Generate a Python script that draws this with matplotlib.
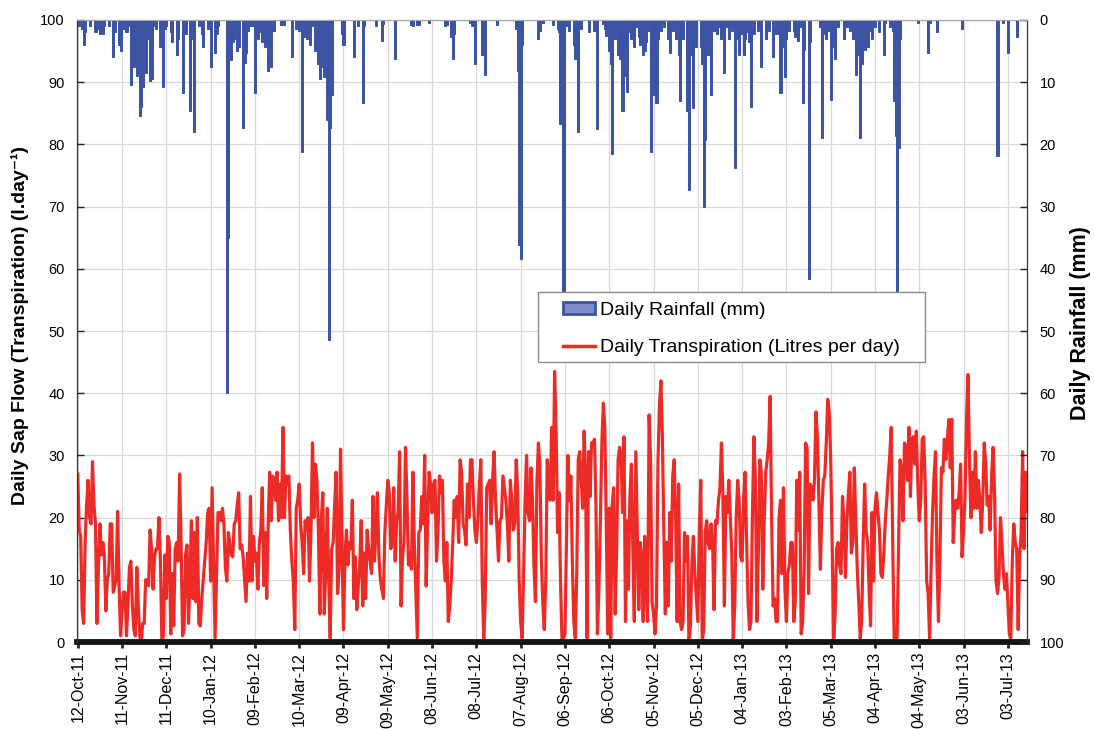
import numpy as np
import pandas as pd
import matplotlib
matplotlib.use("Agg")
import matplotlib.pyplot as plt
import matplotlib.dates as mdates
from matplotlib.patches import Patch, Rectangle
from matplotlib.lines import Line2D

plt.rcParams['font.family'] = ['Liberation Sans', 'DejaVu Sans']

# ---- data -------------------------------------------------------------
start_date = '2011-10-12'          # first day of the record
tick_every_days = 30
n_ticks = 22

# daily transpiration (litres per day), one value per day from start_date
transpiration = [
    27, 18, 17, 5, 3, 16, 22, 26, 20, 19, 29, 22, 19, 3, 12, 19, 14, 16, 14, 5,
    10, 11, 19, 19, 8, 9, 10, 21, 9, 1, 5, 8, 8, 1, 6, 12, 13, 6, 2, 1,
    12, 6, 1, 0, 3, 3, 10, 10, 9, 18, 15,
    8.5, 13.7, 15, 15, 20, 13, 0, 1, 14, 7, 17, 16, 1.3, 11, 2.6, 15, 16, 13, 27, 16,
    1, 2, 14, 15.6, 3, 10, 19.5, 7, 17.6, 6.5, 20, 3, 2.6, 7, 10, 13, 16, 20.8, 21.5, 9.8,
    24.8, 13, 0.6, 11, 20.8, 20.8, 19.5, 21.5, 19, 12, 9.8, 17.6, 16, 14,
    13.7, 19, 19.5, 22, 24, 15, 15.6, 13.7, 10, 6.5, 14.3, 9.8, 23.4, 9.8, 17, 13, 14.3, 8.5, 16, 18,
    24.8, 9.1, 17.6, 7, 19, 27.3, 19.5, 26.7, 26, 22.8, 27.3, 19.5, 25.4, 20, 34.5, 20, 26.7, 25.4, 26.7, 18,
    13, 9.8, 2, 21.5, 22.8, 25.4, 19, 16, 11, 19.5, 18, 20, 9.8, 18,
    32, 20, 28.6, 26, 18, 4.5, 20, 24, 4.5, 12, 21.5, 9.8, 0.6, 15, 16, 22, 27.3, 7.8, 11.7, 31,
    15.6, 2, 13.7, 18, 12.4, 16, 15, 22.8, 7, 13.7, 5.2, 9, 12.4, 19.5, 5.8, 14.3, 7, 18, 15, 13,
    11, 23.4, 13, 18, 24, 13.7, 10, 8.5, 7, 17.6, 22, 26, 24, 15,
    16, 24.8, 13, 19.5, 20.8, 30.6, 5.8, 13.7, 16, 31.3, 22.8, 12.4, 14.3, 11.7, 27.3, 15.6, 8, 0.6, 17.6, 18,
    23.4, 19, 30, 9, 19, 27.3, 25.4, 20.8, 25.4, 26, 13, 17.6, 26.7, 24, 26, 13, 9.8, 16, 3.3, 5.8,
    10, 16, 22.8, 20, 23.4, 16, 29.3, 27.3, 19, 18, 15.6, 25.4, 20, 29.3,
    29.3, 22.8, 18, 16, 19.5, 24.8, 29.3, 9.8, 0, 7, 24.8, 25.4, 26, 19, 26, 30.6, 22.8, 18, 13, 19.5,
    20, 26.7, 24.8, 22.8, 19, 13, 26, 22.8, 18, 19, 29.3, 24, 9.8, 3.3, 0.6, 11, 22.8, 30, 20.8, 19.5,
    28, 22.8, 12.4, 6.5, 25.4, 32, 28.6, 13.7, 6.5, 2, 9.8, 29.3, 25.4, 22.8,
    34.5, 22.8, 43.5, 34.5, 17.6, 24, 10, 0, 0.6, 1.3, 16, 30, 22.8, 26.7, 13, 3.3, 0.6, 11, 29.3, 30.6,
    26, 21.5, 33.9, 26, 0.6, 30.6, 23.4, 32, 32, 32.6, 22, 1.3, 8.5, 19.5, 32, 38.4, 34.5, 19, 1.3, 21.5,
    0.6, 22, 24.8, 4.5, 14.3, 29.3, 31.3, 30, 20.8, 33, 3.3, 19.5, 8.5, 23.4,
    28.6, 15, 3.3, 30.6, 17.6, 5.2, 16, 13.7, 3.3, 17, 8.5, 3.3, 36.5, 29.3, 6.5, 4.5, 1.3, 5.8, 28.6, 38,
    42, 33, 17.6, 4.5, 16, 5.8, 20.8, 13, 26.7, 29.3, 19.5, 3.3, 25.4, 3.3, 2, 3.3, 17.6, 13, 17, 0,
    2.6, 13, 17, 11, 7, 3.3, 17.6, 26, 0, 2, 17.6, 19.5, 16, 15,
    19, 16, 5.2, 19.5, 19, 22.8, 24.8, 32, 23.4, 5.8, 23.4, 20.8, 26, 20, 14.3, 0, 5.8, 20, 26, 22.8,
    13.7, 13, 22.8, 27.3, 17, 6.5, 2, 3.3, 20.8, 33, 26, 3.3, 14.3, 29.3, 27.3, 8.5, 20, 27.3, 29.3, 32,
    39.5, 19.5, 5.8, 7, 3.3, 3.3, 20, 22.8, 11, 24.8, 8.5, 3.3, 11, 12.4, 16,
    16, 3.3, 6.5, 26, 18, 27.3, 1.3, 3.3, 11, 32, 31.3, 7.8, 25.4, 24.8, 22.8, 26, 37, 33, 22.8, 11.7,
    20.8, 26, 26.7, 32, 39, 37, 29.3, 16, 0, 4.5, 15, 16, 12.4, 11, 23.4, 19.5, 10.4, 19.5, 24, 27.3,
    14.3, 16, 28, 19.5, 11.7, 6.5, 0.6, 3.3, 16, 25.4, 18, 16, 8.5, 2.6,
    20.8, 9.8, 21.5, 24, 20.8, 18, 11, 10.4, 14.3, 19.5, 22.8, 26.7, 30, 34.5, 16, 0.6, 0, 0.6, 16, 29.3,
    27.3, 19.5, 32, 31.3, 26, 34.5, 23.4, 32.6, 33, 28.6, 33.9, 25.4, 19.5, 22.8, 32.6, 33, 25.4, 9.8, 7.8, 0.6,
    11.7, 20.8, 26.7, 30.6, 12.4, 3.3, 13.7, 28, 27.3, 32.6, 29.3, 32.6, 35.8, 28,
    35.8, 16, 20.8, 22.8, 21.5, 24, 28.6, 13.7, 18, 23.4, 35.8, 43, 29.3, 20, 27.3, 21.5, 30.6, 21.5, 26, 22.8,
    17.6, 22.8, 32, 28.6, 22, 23.4, 18, 26.7, 31.3, 24, 9.8, 7.8, 10.4, 20, 16, 11, 8.5, 11, 6.5, 1.3,
    0.6, 13, 19, 16, 15, 2, 13.7, 17.6, 30.6, 15, 27.3, 21,
]

# rain days (days after start_date) and daily rainfall (mm)
rain_day = [
    1, 3, 4, 5, 8, 12, 13, 15, 16, 17, 18, 21, 24, 25, 28, 29, 31, 33, 34, 36,
    37, 38, 40, 42, 43, 44, 46, 47, 49, 50, 51, 53, 56, 58, 59, 60, 63, 64, 67, 68,
    71, 73, 76, 77, 79, 82, 84, 85, 88, 90, 93, 94, 95, 101, 102, 104, 105, 106, 107, 108,
    109, 112, 113, 114, 115, 117, 119, 120, 122, 123, 125, 126, 127, 129, 130, 131, 133, 138, 140, 145,
    148, 150, 152, 153, 155, 157, 159, 161, 163, 164, 166, 167, 168, 169, 170, 171, 172, 179, 180, 187,
    190, 193, 194, 202, 206, 207, 215, 226, 227, 230, 231, 238, 249, 250, 253, 254, 255, 266, 267, 268,
    269, 274, 275, 276, 284, 297, 298, 299, 300, 301, 312, 313, 315, 322, 325, 326, 327, 328, 329, 331,
    333, 336, 337, 339, 341, 346, 350, 352, 356, 357, 358, 360, 361, 362, 364, 366, 367, 369, 370, 371,
    372, 374, 375, 376, 377, 378, 380, 381, 382, 383, 384, 385, 386, 388, 389, 390, 392, 393, 395, 397,
    400, 401, 403, 405, 407, 408, 410, 413, 414, 416, 417, 419, 422, 423, 424, 425, 427, 429, 431, 433,
    434, 436, 438, 440, 441, 443, 445, 446, 448, 449, 451, 452, 454, 455, 456, 458, 461, 463, 466, 468,
    471, 473, 475, 476, 477, 479, 480, 482, 485, 486, 488, 489, 491, 492, 495, 496, 503, 504, 505, 507,
    508, 510, 511, 513, 515, 519, 521, 523, 525, 527, 528, 530, 531, 533, 535, 536, 538, 540, 543, 546,
    547, 550, 552, 553, 554, 555, 556, 557, 569, 576, 577, 582, 599, 623, 627, 630, 636,
]
rain_mm = [
    1.0, 1.5, 4.0, 2.0, 1.0, 2.0, 1.5, 2.3, 1.2, 2.3, 1.0, 1.0, 6.0, 2.0, 4.0, 5.0, 1.5, 2.0, 1.0, 10.5,
    3.0, 7.5, 9.0, 15.5, 14.0, 10.8, 8.5, 3.0, 9.8, 9.5, 1.0, 1.5, 4.3, 10.8, 1.5, 1.0, 2.0, 3.6, 5.6, 3.0,
    11.8, 2.3, 14.7, 3.0, 18.0, 1.0, 2.3, 4.3, 1.5, 7.5, 5.3, 2.3, 1.0, 60.0, 35.0, 6.5, 3.5, 3.0, 1.0, 5.0,
    4.3, 17.3, 6.9, 5.3, 1.8, 1.0, 1.0, 11.8, 3.0, 2.0, 3.6, 3.3, 4.3, 8.2, 5.6, 7.5, 1.8, 0.8, 0.8, 6.0,
    1.5, 1.8, 21.2, 2.7, 3.0, 4.0, 1.0, 5.0, 7.0, 9.5, 7.5, 9.2, 7.0, 16.0, 51.5, 17.3, 12.0, 2.3, 4.0, 6.0,
    1.0, 13.4, 1.0, 1.0, 3.3, 0.6, 6.3, 0.8, 1.0, 0.8, 0.8, 0.5, 1.0, 0.8, 2.7, 6.3, 2.3, 0.5, 1.0, 1.0,
    7.0, 5.6, 3.0, 8.9, 0.8, 1.5, 8.2, 36.2, 38.5, 4.0, 3.0, 1.8, 0.5, 0.8, 1.5, 2.0, 16.7, 2.5, 52.0, 1.0,
    1.8, 4.0, 6.3, 18.0, 1.5, 2.0, 1.8, 17.6, 0.6, 1.5, 2.5, 5.0, 7.0, 21.5, 3.0, 5.6, 6.3, 14.7, 9.0, 4.3,
    11.5, 2.0, 3.0, 2.0, 4.3, 1.2, 2.7, 4.0, 1.8, 5.6, 5.0, 3.6, 1.8, 21.2, 7.0, 12.1, 13.4, 3.0, 1.8, 1.2,
    3.0, 5.3, 1.8, 3.0, 5.6, 13.0, 3.0, 14.7, 27.4, 5.6, 14.2, 4.3, 4.3, 7.0, 30.0, 19.3, 5.6, 12.0, 1.8, 2.3,
    1.2, 3.0, 8.5, 1.2, 3.0, 1.8, 23.8, 3.0, 5.6, 2.3, 5.6, 3.0, 2.0, 3.6, 14.0, 2.3, 1.8, 7.5, 3.0, 1.8,
    6.0, 2.3, 2.3, 11.8, 4.3, 9.2, 3.0, 1.8, 1.8, 2.7, 3.3, 1.2, 13.4, 4.9, 41.7, 3.6, 1.2, 19.0, 2.3, 3.0,
    1.8, 12.8, 4.3, 6.3, 1.2, 3.0, 1.2, 1.8, 3.0, 8.9, 5.6, 19.0, 7.0, 4.9, 4.3, 1.8, 3.0, 1.2, 2.0, 5.6,
    0.5, 1.2, 1.8, 13.1, 18.6, 50.0, 20.6, 3.0, 0.5, 5.3, 0.5, 2.0, 1.4, 21.9, 0.5, 5.3, 2.7,
]

# ---- derived dates ----------------------------------------------------
t0 = pd.Timestamp(start_date)
dates = mdates.date2num(t0 + pd.to_timedelta(np.arange(len(transpiration)), unit='D'))
rain_dates = mdates.date2num(t0 + pd.to_timedelta(rain_day, unit='D'))
tick_dates = pd.date_range(t0, periods=n_ticks, freq=f'{tick_every_days}D')

RED = '#EC2A26'
BLUE = '#3A53A4'

fig = plt.figure(figsize=(10.94, 7.29), dpi=100)
ax = fig.add_axes([0.0708, 0.1193, 0.868, 0.8533])
ax2 = ax.twinx()

# transpiration on the left axis
ax.plot(dates, transpiration, color=RED, lw=2.3, solid_joinstyle='round', zorder=3)
ax.axhline(0, color='#141414', lw=4.2, zorder=4, clip_on=False)
ax.set_ylim(0, 100)
ax.set_yticks(np.arange(0, 101, 10))
ax.set_xlim(mdates.date2num(t0) - 0.2, mdates.date2num(t0) + 643)
ax.set_xticks(mdates.date2num(tick_dates))
ax.set_xticklabels([d.strftime('%d-%b-%y') for d in tick_dates], rotation=90,
                   fontsize=11.5, va='top', ha='center')
ax.grid(True, color='#d9d9d9', lw=0.9)
ax.set_axisbelow(True)
ax.tick_params(axis='y', direction='in', length=5, width=1, pad=9, labelsize=10.5, colors='#222222',
               labelcolor='black')
ax.tick_params(axis='x', direction='out', length=4, width=2, pad=3, colors='#222222', labelcolor='black')

# rainfall hanging from the top on an inverted right axis
ax2.bar(rain_dates, rain_mm, width=1.4, color=BLUE, edgecolor=BLUE, linewidth=0.7, zorder=2)
ax2.set_ylim(100, 0)
ax2.set_yticks(np.arange(0, 101, 10))
ax2.tick_params(axis='y', direction='in', length=5, width=1, pad=9, labelsize=10.5, colors='#222222',
                labelcolor='black')

for a in (ax, ax2):
    a.spines['top'].set_color('#a6a6a6')
    a.spines['left'].set_color('#333333')
    a.spines['right'].set_color('#333333')
    a.spines['bottom'].set_visible(False)

fig.text(0.0183, 0.554, 'Daily Sap Flow (Transpiration) (l.day⁻¹)', rotation=90,
         fontsize=14, fontweight='bold', ha='center', va='center')
fig.text(0.988, 0.557, 'Daily Rainfall (mm)', rotation=90,
         fontsize=15.5, fontweight='bold', ha='center', va='center')

# legend: white box with a grey border, entries placed inside it
ax2.add_patch(Rectangle((0.485, 0.450), 0.408, 0.1125, transform=ax2.transAxes,
                        facecolor='white', edgecolor='#8c8c8c', lw=1.0, zorder=9))
handles = [Patch(facecolor='#7E8CC8', edgecolor=BLUE, linewidth=2),
           Line2D([0], [0], color=RED, lw=2.5)]
leg = ax2.legend(handles, ['Daily Rainfall (mm)', 'Daily Transpiration (Litres per day)'],
                 loc='upper left', bbox_to_anchor=(0.511, 0.547), borderaxespad=0,
                 fontsize=14, frameon=False, handlelength=1.65, handleheight=0.6,
                 handletextpad=0.25, labelspacing=1.05, borderpad=0)
leg.set_zorder(10)

fig.savefig('out.png', dpi=100)
